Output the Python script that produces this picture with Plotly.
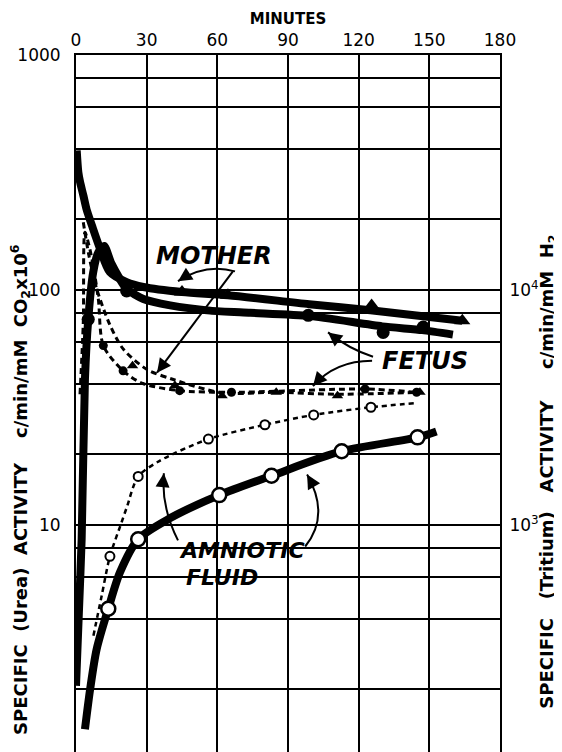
import math
import plotly.graph_objects as go

# ---------------- data ----------------
# Urea (C14) specific activity, left axis
mother_urea_t = [0.3, 1.0, 1.7, 3.1, 4.5, 6.7, 10.2, 14.4, 21.5, 28.6, 45, 64.5, 99, 125, 164]
mother_urea_v = [392, 316, 289, 253, 220, 189, 150, 119, 108, 103, 98, 95, 87, 82, 74]
mother_urea_mk_t = [45, 64.5, 125.5, 164]
mother_urea_mk_v = [98, 95, 86, 74]

fetus_urea_t = [0.0, 1.2, 2.4, 3.8, 5.2, 7.3, 9.5, 12, 15, 21.5, 28.6, 40, 57, 74, 99, 130, 147, 160]
fetus_urea_v = [2.07, 4.2, 8.7, 41.8, 75, 119, 145, 154, 130, 101, 91.6, 86, 81.7, 80, 77.6, 70, 67.5, 64.6]
fetus_urea_mk_t = [5.2, 21.5, 98.6, 130.4, 147.4]
fetus_urea_mk_v = [75, 99, 78, 66, 69.6]

amnio_urea_t = [3.8, 6, 8.8, 13.7, 18.7, 26.4, 40, 60.8, 83, 112.8, 145, 153]
amnio_urea_v = [1.35, 2.0, 2.97, 4.4, 6.3, 8.7, 10.7, 13.4, 16.2, 20.6, 23.6, 25.0]
amnio_urea_mk_t = [13.7, 26.4, 60.8, 83, 112.8, 145]
amnio_urea_mk_v = [4.4, 8.7, 13.4, 16.2, 20.6, 23.6]

# Tritium specific activity, right axis (c/min/mM H2)
mother_trit_t = [3.1, 5.5, 8.8, 14.4, 20.1, 30, 41, 62, 85, 111, 146]
mother_trit_v = [19400, 14000, 10100, 7100, 5600, 4600, 4170, 3650, 3670, 3600, 3670]
mother_trit_mk_t = [24, 42, 62, 85, 111, 146]
mother_trit_mk_v = [4760, 3920, 3550, 3670, 3550, 3670]

fetus_trit_t = [1.7, 3.1, 3.8, 5.5, 7.3, 9.5, 11.6, 20, 28.4, 44, 66, 122.7, 144.6]
fetus_trit_v = [3600, 7300, 17600, 15500, 12700, 9100, 5800, 4530, 4000, 3730, 3670, 3790, 3670]
fetus_trit_mk_t = [11.6, 20, 44, 66, 122.7, 144.6]
fetus_trit_mk_v = [5800, 4530, 3730, 3670, 3790, 3670]

amnio_trit_t = [7.4, 10.9, 14.4, 19.4, 21.7, 26.4, 35.7, 56.2, 80.2, 100.9, 125.2, 144]
amnio_trit_v = [338, 500, 736, 1030, 1200, 1610, 1880, 2320, 2670, 2940, 3170, 3300]
amnio_trit_mk_t = [14.4, 26.4, 56.2, 80.2, 100.9, 125.2]
amnio_trit_mk_v = [736, 1610, 2320, 2670, 2940, 3170]

x_ticks = [0, 30, 60, 90, 120, 150, 180]
y_major = [10, 100, 1000]
y_major_text = ["10", "100", "1000"]
y_minor = [2, 4, 6, 8, 20, 40, 60, 80, 200, 400, 600, 800]
y2_ticks = [1000, 10000]
y2_labels = ["10<sup>3</sup>", "10<sup>4</sup>"]

X_RANGE = [0, 180]
Y_RANGE = [0.034, 3]          # log10 of left-axis range
Y2_RANGE = [2.034, 5]         # log10 of right-axis range

# ---------------- figure ----------------
FONT = "DejaVu Sans"
BLACK = "black"
fig = go.Figure()

def line(t, v, width, dash="solid", yaxis="y", smooth=0.8):
    fig.add_trace(go.Scatter(x=t, y=v, mode="lines", yaxis=yaxis,
                             line=dict(color=BLACK, width=width, dash=dash,
                                       shape="spline", smoothing=smooth),
                             showlegend=False, hoverinfo="skip"))

def marks(t, v, symbol, size, fill=BLACK, lw=0, yaxis="y"):
    fig.add_trace(go.Scatter(x=t, y=v, mode="markers", yaxis=yaxis,
                             marker=dict(symbol=symbol, size=size, color=fill,
                                         line=dict(color=BLACK, width=lw)),
                             showlegend=False, hoverinfo="skip"))

# dashed tritium curves (right axis)
line(mother_trit_t, mother_trit_v, 3, "6px,4px", "y2")
marks(mother_trit_mk_t, mother_trit_mk_v, "triangle-up", 10, yaxis="y2")
line(fetus_trit_t, fetus_trit_v, 3, "6px,4px", "y2")
marks(fetus_trit_mk_t, fetus_trit_mk_v, "circle", 9, yaxis="y2")
line(amnio_trit_t, amnio_trit_v, 2.5, "5px,4px", "y2")
marks(amnio_trit_mk_t, amnio_trit_mk_v, "circle", 9, fill="white", lw=2, yaxis="y2")

# thick urea curves (left axis)
line(mother_urea_t, mother_urea_v, 8)
marks(mother_urea_mk_t, mother_urea_mk_v, "triangle-up", 14)
line(fetus_urea_t, fetus_urea_v, 8, smooth=0.6)
marks(fetus_urea_mk_t, fetus_urea_mk_v, "circle", 13)
line(amnio_urea_t, amnio_urea_v, 8)
marks(amnio_urea_mk_t, amnio_urea_mk_v, "circle", 14, fill="white", lw=2.5)

# ---------------- curve labels ----------------
def label(text, t, v, size):
    fig.add_annotation(x=t, y=math.log10(v), xref="x", yref="y",
                       text="<b><i>%s</i></b>" % text, showarrow=False,
                       font=dict(family=FONT, size=size, color=BLACK))

label("MOTHER", 58.6, 140, 24)
label("FETUS", 148.2, 50, 24)
label("AMNIOTIC", 70.5, 7.8, 22)
label("FLUID", 62.0, 6.0, 22)

# curved pointer arrows: (tail, control, head) given as (minutes, left-axis value)
def to_paper(t, v):
    return ((t - X_RANGE[0]) / (X_RANGE[1] - X_RANGE[0]),
            (math.log10(v) - Y_RANGE[0]) / (Y_RANGE[1] - Y_RANGE[0]))

PLOT_W, PLOT_H = 424, 697

def curved_arrow(tail, ctrl, head):
    p0, p1, p2 = to_paper(*tail), to_paper(*ctrl), to_paper(*head)
    fig.add_shape(type="path", xref="paper", yref="paper",
                  path="M %f,%f Q %f,%f %f,%f" % (p0[0], p0[1], p1[0], p1[1], p2[0], p2[1]),
                  line=dict(color=BLACK, width=2))
    dx = (p1[0] - p2[0]) * PLOT_W
    dy = -(p1[1] - p2[1]) * PLOT_H
    n = math.hypot(dx, dy) or 1
    fig.add_annotation(x=p2[0], y=p2[1], xref="paper", yref="paper",
                       ax=dx / n * 9, ay=dy / n * 9, text="", showarrow=True,
                       arrowhead=2, arrowsize=1.4, arrowwidth=2, arrowcolor=BLACK)

curved_arrow((67.5, 120), (55, 130), (43.3, 109))     # MOTHER -> thick
curved_arrow((66.6, 120), (50.5, 73), (34.4, 44.5))   # MOTHER -> dashed
curved_arrow((126.1, 52), (116, 56), (107, 66))       # FETUS -> thick
curved_arrow((125.7, 50), (110, 50), (100.6, 39))     # FETUS -> dashed
curved_arrow((43.3, 8.6), (36, 12.0), (37.3, 16.6))   # AMNIOTIC -> dashed
curved_arrow((97.3, 8.1), (108, 11.0), (98.1, 16.4))  # AMNIOTIC -> thick

# ---------------- axis titles (rotated text) ----------------
NB = "\u00a0"
left_title = ("<b>SPECIFIC" + NB * 2 + "(Urea)" + NB * 2 + "ACTIVITY" + NB * 4 +
              "c/min/mM" + NB * 2 + "CO<sub>2</sub>x10<sup>6</sup></b>")
right_title = ("<b>SPECIFIC" + NB * 3 + "(Tritium)" + NB * 3 + "ACTIVITY" + NB * 5 +
               "c/min/mM" + NB * 2 + "H<sub>2</sub></b>")
fig.add_annotation(x=-0.132, y=0.376, xref="paper", yref="paper", textangle=-90,
                   xanchor="center", yanchor="middle",
                   text=left_title, showarrow=False,
                   font=dict(family=FONT, size=18, color=BLACK))
fig.add_annotation(x=1.113, y=0.402, xref="paper", yref="paper", textangle=-90,
                   xanchor="center", yanchor="middle",
                   text=right_title, showarrow=False,
                   font=dict(family=FONT, size=18, color=BLACK))

grid = dict(gridcolor=BLACK, gridwidth=1.8)
fig.update_layout(
    width=562, height=752,
    # the page body adds an 8px offset, margins compensate for it
    margin=dict(l=68, r=70, t=47, b=8, pad=0),
    paper_bgcolor="white", plot_bgcolor="white",
    font=dict(family=FONT, color=BLACK),
    xaxis=dict(side="top", range=X_RANGE, tickvals=x_ticks,
               ticktext=[str(v) for v in x_ticks],
               tickfont=dict(family=FONT, size=17, color=BLACK),
               ticks="", showgrid=True, **grid, automargin=False,
               showline=True, linecolor=BLACK, linewidth=2, zeroline=False,
               title=dict(text="<b>MINUTES</b>", font=dict(family=FONT, size=15, color=BLACK),
                          standoff=2)),
    yaxis=dict(type="log", range=Y_RANGE, tickvals=y_major, ticktext=y_major_text,
               tickfont=dict(family=FONT, size=17, color=BLACK),
               ticks="", ticklabelstandoff=10, automargin=False,
               showgrid=True, **grid,
               minor=dict(tickvals=y_minor, showgrid=True, ticks="", **grid),
               showline=True, linecolor=BLACK, linewidth=2, zeroline=False),
    yaxis2=dict(type="log", range=Y2_RANGE, overlaying="y", side="right",
                tickvals=y2_ticks, ticktext=y2_labels, automargin=False,
                tickfont=dict(family=FONT, size=17, color=BLACK),
                ticks="", ticklabelstandoff=4, showgrid=False,
                showline=True, linecolor=BLACK, linewidth=2, zeroline=False),
)

fig.write_html("out.html")
